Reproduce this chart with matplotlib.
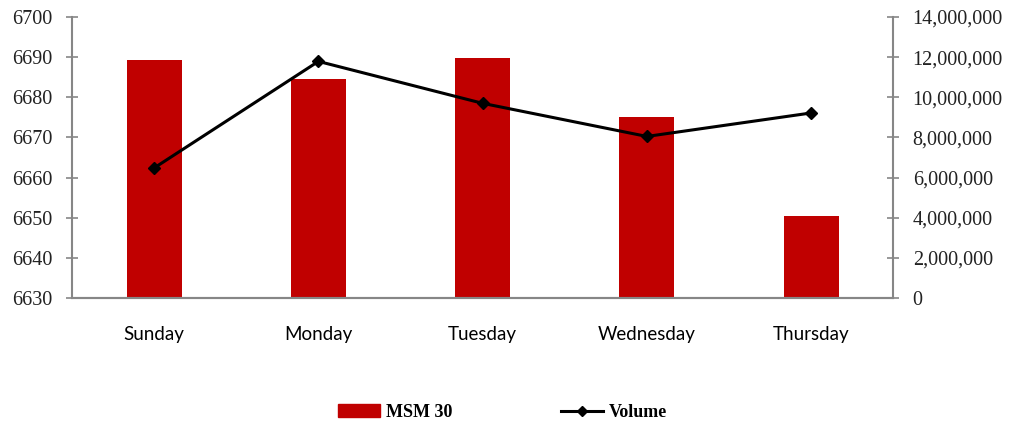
import matplotlib.pyplot as plt
from matplotlib.ticker import FuncFormatter
from matplotlib.lines import Line2D
from matplotlib.patches import Patch

days = ["Sunday", "Monday", "Tuesday", "Wednesday", "Thursday"]
msm30 = [6689.4, 6684.5, 6689.8, 6675.2, 6650.4]
volume = [6480000, 11790000, 9700000, 8050000, 9220000]

bar_color = "#C00000"
axis_gray = "#868686"
serif = "Liberation Serif"

fig = plt.figure(figsize=(10.22, 4.26), dpi=100)
ax = fig.add_axes([0.0705, 0.3005, 0.8035, 0.6595])
ax2 = ax.twinx()

x = range(len(days))
ax.bar(x, msm30, width=0.335, color=bar_color, zorder=2)
ax.set_ylim(6630, 6700)
ax.set_xlim(-0.5, len(days) - 0.5)
ax.set_yticks(range(6630, 6701, 10))
ax.set_xticks(list(x))
ax.set_xticklabels(days, fontsize=13.5, fontfamily="Lato")

ax2.plot(x, volume, color="black", lw=2.2, marker="D", ms=6, zorder=3)
ax2.set_ylim(0, 14000000)
ax2.set_yticks(range(0, 14000001, 2000000))
ax2.yaxis.set_major_formatter(FuncFormatter(lambda v, p: f"{int(v):,}"))

for a in (ax, ax2):
    a.spines["top"].set_visible(False)
    for s in a.spines.values():
        s.set_color(axis_gray)
        s.set_linewidth(1.5)
    a.tick_params(axis="y", direction="inout", length=8, width=1.2, color=axis_gray,
                  labelsize=14.5, pad=10)
    for lab in a.get_yticklabels():
        lab.set_fontfamily(serif)
        lab.set_color("#222222")
ax.tick_params(axis="x", length=0, pad=20)
ax2.spines["left"].set_visible(False)
ax.spines["right"].set_visible(False)

handles = [Patch(color=bar_color, label="MSM 30"),
           Line2D([0], [0], color="black", lw=2.2, marker="D", ms=5, label="Volume")]
fig.legend(handles=handles, loc="center", bbox_to_anchor=(0.492, 0.032), ncol=2,
           frameon=False, handlelength=2.3, handletextpad=0.35, columnspacing=6.0,
           prop={"family": serif, "weight": "bold", "size": 13})

fig.savefig("out.png", dpi=100)
